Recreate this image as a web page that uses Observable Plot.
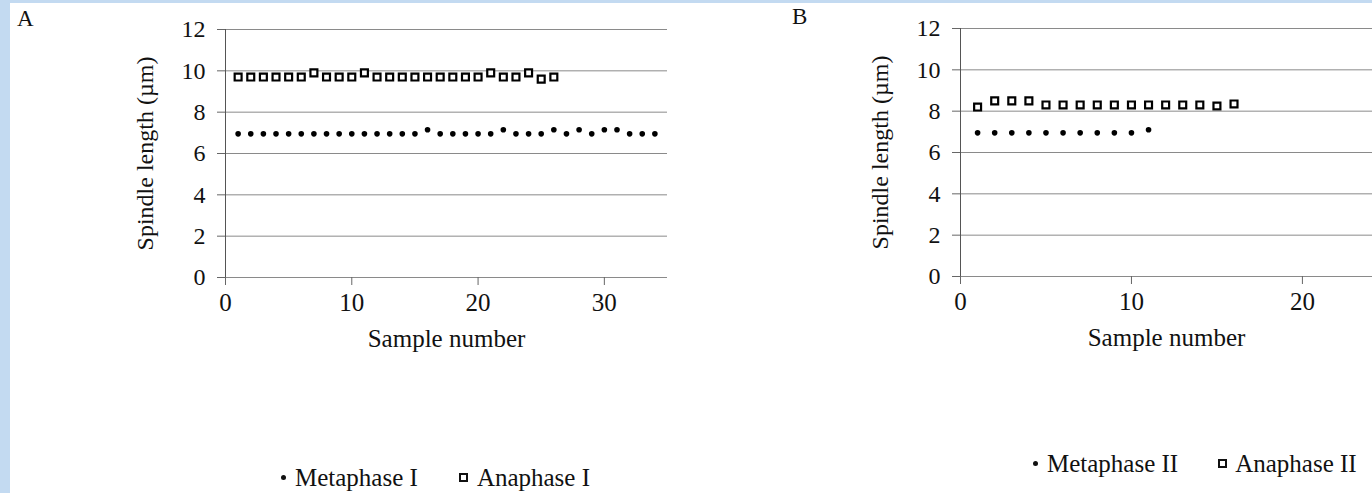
<!DOCTYPE html>
<html><head><meta charset="utf-8">
<script src="https://cdn.jsdelivr.net/npm/d3@7"></script>
<script src="https://cdn.jsdelivr.net/npm/@observablehq/plot@0.6"></script>
<style>
html,body{margin:0;padding:0;width:1372px;height:493px;overflow:hidden;background:#c3daf1;position:relative;}
#page{position:absolute;left:10px;top:3px;width:1362px;height:490px;background:#fff;}
.abs{position:absolute;font-family:"Liberation Serif",serif;color:#111;white-space:nowrap;}
.panel{position:absolute;top:0;}
.lab{font-size:23px;}
.leg{font-size:25px;display:flex;align-items:center;line-height:1;}
.dt{display:inline-block;width:5px;height:5px;border-radius:50%;background:#111;}
.sq{display:inline-block;width:5px;height:5px;border:2px solid #111;background:#fff;}
</style></head>
<body>
<div id="page"></div>
<div class="abs lab" style="left:17px;top:6px;">A</div>
<div class="abs lab" style="left:792px;top:4px;">B</div>
<div class="abs leg" style="left:281px;top:465px;"><span class="dt"></span><span style="margin-left:9px">Metaphase I</span><span class="sq" style="margin-left:41px"></span><span style="margin-left:9px">Anaphase I</span></div>
<div class="abs leg" style="left:1033px;top:451px;"><span class="dt"></span><span style="margin-left:9px">Metaphase II</span><span class="sq" style="margin-left:40px"></span><span style="margin-left:8px">Anaphase II</span></div>
<div id="A" class="panel" style="left:0px;"></div>
<div id="B" class="panel" style="left:700px;"></div>
<script>
// Panel A data
const sampleA_meta = [1,2,3,4,5,6,7,8,9,10,11,12,13,14,15,16,17,18,19,20,21,22,23,24,25,26,27,28,29,30,31,32,33,34];
const metaphaseI = [6.95,6.95,6.95,6.95,6.95,6.95,6.95,6.95,6.95,6.95,6.95,6.95,6.95,6.95,6.95,7.15,6.95,6.95,6.95,6.95,6.95,7.15,6.95,6.95,6.95,7.15,6.95,7.15,6.95,7.15,7.15,6.95,6.95,6.95];
const sampleA_ana = [1,2,3,4,5,6,7,8,9,10,11,12,13,14,15,16,17,18,19,20,21,22,23,24,25,26];
const anaphaseI = [9.7,9.7,9.7,9.7,9.7,9.7,9.9,9.7,9.7,9.7,9.9,9.7,9.7,9.7,9.7,9.7,9.7,9.7,9.7,9.7,9.9,9.7,9.7,9.9,9.6,9.7];
// Panel B data
const sampleB_meta = [1,2,3,4,5,6,7,8,9,10,11];
const metaphaseII = [6.95,6.95,6.95,6.95,6.95,6.95,6.95,6.95,6.95,6.95,7.1];
const sampleB_ana = [1,2,3,4,5,6,7,8,9,10,11,12,13,14,15,16];
const anaphaseII = [8.2,8.5,8.5,8.5,8.3,8.3,8.3,8.3,8.3,8.3,8.3,8.3,8.3,8.3,8.25,8.35];
// Axes
const yTicks = [0,2,4,6,8,10,12];
const xTicksA = [0,10,20,30];
const xTicksB = [0,10,20];
const yTitle = "Spindle length (µm)";
const xTitle = "Sample number";

function panel(xs1, ys1, xs2, ys2, xTicks, xDomain, opts) {
  const meta = xs1.map((x, i) => ({x, y: ys1[i]}));
  const ana = xs2.map((x, i) => ({x, y: ys2[i]}));
  return Plot.plot({
    width: opts.width, height: 360,
    marginLeft: opts.ml, marginRight: opts.mr, marginTop: opts.mt, marginBottom: 360 - opts.y0,
    style: {fontFamily: "Liberation Serif, serif", background: "transparent", color: "#111", overflow: "visible"},
    x: {domain: xDomain},
    y: {domain: [0, 12]},
    marks: [
      Plot.gridY(yTicks, {stroke: "#8a8a8a", strokeOpacity: 1, strokeWidth: 1}),
      Plot.ruleX([0], {y1: 0, y2: 12, stroke: "#555", strokeWidth: 1}),
      Plot.axisY(yTicks, {tickSize: 8, tickPadding: 12, fontSize: 24, label: null, stroke: "#666", fill: "#111"}),
      Plot.axisX(xTicks, {tickSize: 8, tickPadding: 8, fontSize: 25, label: null, stroke: "#666", fill: "#111"}),
      Plot.dot(meta, {x: "x", y: "y", r: 2.8, fill: "#000", stroke: "none"}),
      Plot.dot(ana, {x: "x", y: "y", symbol: "square", r: 3.9, fill: "#fff", stroke: "#000", strokeWidth: 2.2}),
      Plot.text([yTitle], {frameAnchor: "left", textAnchor: "middle", lineAnchor: "middle", dx: -80, rotate: -90, fontSize: 24, fill: "#111"}),
      Plot.text([xTitle], {frameAnchor: "bottom", textAnchor: "middle", lineAnchor: "middle", dy: 61, fontSize: 25, fill: "#111"})
    ]
  });
}

document.getElementById("A").append(panel(sampleA_meta, metaphaseI, sampleA_ana, anaphaseI, xTicksA, [0, 35],
  {width: 700, ml: 225, mr: 33, mt: 29, y0: 277}));
document.getElementById("B").append(panel(sampleB_meta, metaphaseII, sampleB_ana, anaphaseII, xTicksB, [0, 24.1],
  {width: 672, ml: 260, mr: 0, mt: 28, y0: 276}));
</script>
</body></html>
